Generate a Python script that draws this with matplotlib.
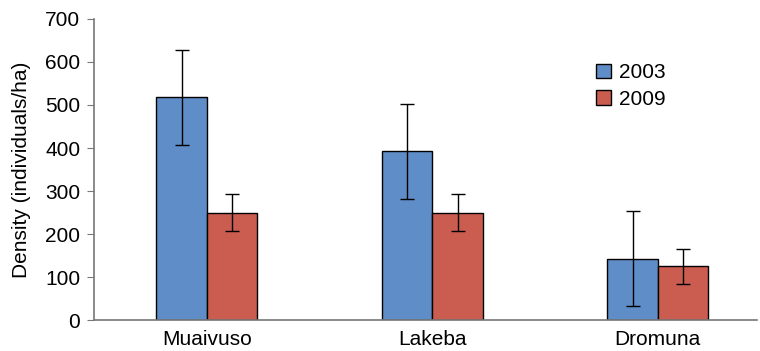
import matplotlib.pyplot as plt
import numpy as np

plt.rcParams['font.family'] = ['Liberation Sans', 'DejaVu Sans']

sites = ["Muaivuso", "Lakeba", "Dromuna"]
years = ["2003", "2009"]
dens_2003 = [518, 392, 143]
dens_2009 = [250, 250, 125]
err_2003 = [110, 110, 110]
err_2009 = [42, 42, 41]

fig = plt.figure(figsize=(7.6, 3.51), dpi=100)
ax = fig.add_axes([0.124, 0.088, 0.872, 0.858])

x = np.arange(len(sites))
w = 0.224
ax.bar(x - w / 2, dens_2003, w, color="#5f8dc8", edgecolor="black", linewidth=1,
       yerr=err_2003, error_kw=dict(ecolor="black", elinewidth=1, capsize=5, capthick=1), label=years[0])
ax.bar(x + w / 2, dens_2009, w, color="#cb5d50", edgecolor="black", linewidth=1,
       yerr=err_2009, error_kw=dict(ecolor="black", elinewidth=1, capsize=5, capthick=1), label=years[1])

ax.set_xlim(-0.5, 2.44)
ax.set_ylim(0, 700)
ax.set_yticks(range(0, 701, 100))
ax.set_xticks(x)
ax.set_xticklabels(sites, fontsize=15)
ax.tick_params(axis="x", length=0, pad=7)
ax.tick_params(axis="y", labelsize=15, length=5, pad=5, color="#777777")
ax.set_ylabel("Density (individuals/ha)", fontsize=15, labelpad=10)
for s in ["top", "right"]:
    ax.spines[s].set_visible(False)
for s in ["left", "bottom"]:
    ax.spines[s].set_color("#777777")
    ax.spines[s].set_linewidth(1.2)

ax.legend(loc="upper left", bbox_to_anchor=(0.745, 0.88), frameon=False, fontsize=15,
          handlelength=0.7, handleheight=0.7, handletextpad=0.4, labelspacing=0.35,
          borderaxespad=0)

fig.savefig("out.png")
